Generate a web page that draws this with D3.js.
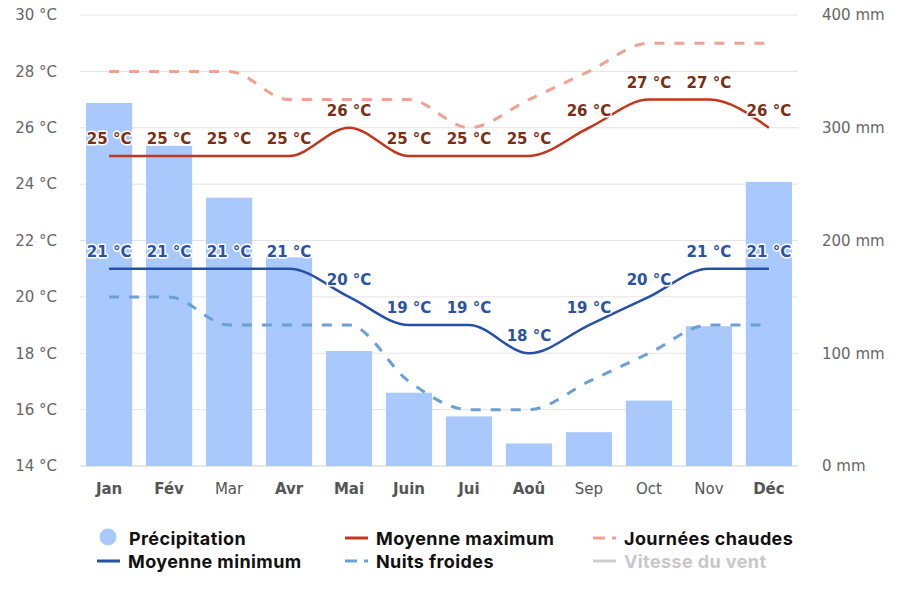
<!DOCTYPE html>
<html><head><meta charset="utf-8">
<script src="https://cdn.jsdelivr.net/npm/d3@7"></script>
<style>
body{margin:0;background:#fff;}
svg{display:block;}
</style></head>
<body><svg id="c" width="900" height="600"></svg>
<script>
const months = ["Jan","Fév","Mar","Avr","Mai","Juin","Jui","Aoû","Sep","Oct","Nov","Déc"];
const boldMonths = ["Jan","Fév","Avr","Mai","Juin","Jui","Aoû","Déc"];
const precipitation = [322, 284, 238, 185, 102, 65, 44, 20, 30, 58, 124, 252];
const maxTemp = [25,25,25,25,26,25,25,25,26,27,27,26];
const minTemp = [21,21,21,21,20,19,19,18,19,20,21,21];
const hotDays = [28,28,28,27,27,27,26,27,28,29,29,29];
const coldNights = [20,20,19,19,19,17,16,16,17,18,19,19];
const tempTicks = [14,16,18,20,22,24,26,28,30];
const rainTicks = [0,100,200,300,400];

const svg = d3.select("#c");
const pL = 80, pR = 798, pT = 15, pB = 466;

const x = d3.scaleBand().domain(months).range([pL, pR]).paddingInner(0.23).paddingOuter(0.1);
const xc = m => x(m) + x.bandwidth()/2;
const yT = d3.scaleLinear().domain([14,30]).range([pB, pT]);
const yR = d3.scaleLinear().domain([0,400]).range([pB, pT]);

// grid
const grid = svg.append("g");
grid.selectAll("line").data(tempTicks.slice(1)).join("line")
  .attr("x1", pL).attr("x2", pR)
  .attr("y1", d => yT(d)).attr("y2", d => yT(d))
  .attr("stroke", "#e3e3e3").attr("stroke-width", 1);
svg.append("line").attr("x1", pL).attr("x2", pR).attr("y1", pB).attr("y2", pB)
  .attr("stroke", "#d0d0d0").attr("stroke-width", 1);

// left axis
const axL = d3.axisLeft(yT).tickValues(tempTicks).tickSize(0).tickPadding(0).tickFormat(d => d + " °C");
svg.append("g").attr("transform", "translate(57,0)").call(axL)
  .call(g => g.select(".domain").remove())
  .selectAll("text").attr("font-family", "DejaVu Sans").attr("font-size", 15).attr("fill", "#666");

// right axis
const axR = d3.axisRight(yR).tickValues(rainTicks).tickSize(0).tickPadding(0).tickFormat(d => d + " mm");
svg.append("g").attr("transform", "translate(822,0)").call(axR)
  .call(g => g.select(".domain").remove())
  .selectAll("text").attr("font-family", "DejaVu Sans").attr("font-size", 15).attr("fill", "#666");

// x axis
const axB = d3.axisBottom(x).tickSize(0).tickPadding(0);
svg.append("g").attr("transform", `translate(0,${pB+17})`).call(axB)
  .call(g => g.select(".domain").remove())
  .selectAll("text").attr("font-family", "DejaVu Sans").attr("font-size", 15)
  .attr("fill", "#555").attr("dy", "0.71em")
  .attr("font-weight", d => boldMonths.includes(d) ? "bold" : "normal");

// bars
svg.append("g").selectAll("rect").data(months).join("rect")
  .attr("x", m => x(m)).attr("width", x.bandwidth())
  .attr("y", (m,i) => yR(precipitation[i]))
  .attr("height", (m,i) => pB - yR(precipitation[i]))
  .attr("fill", "#a9c8fb");

const line = d3.line().x((d,i) => xc(months[i])).y(d => yT(d)).curve(d3.curveMonotoneX);

svg.append("path").attr("d", line(hotDays)).attr("fill","none")
  .attr("stroke","#f0a192").attr("stroke-width",3).attr("stroke-dasharray","10,10");
svg.append("path").attr("d", line(coldNights)).attr("fill","none")
  .attr("stroke","#6a9fd8").attr("stroke-width",3).attr("stroke-dasharray","10,10");
svg.append("path").attr("d", line(maxTemp)).attr("fill","none")
  .attr("stroke","#c3361c").attr("stroke-width",2.5);
svg.append("path").attr("d", line(minTemp)).attr("fill","none")
  .attr("stroke","#2650a8").attr("stroke-width",2.5);

function labels(data, color){
  svg.append("g").selectAll("text").data(data).join("text")
    .attr("x", (d,i) => xc(months[i]))
    .attr("y", d => yT(d) - 12)
    .attr("text-anchor","middle")
    .attr("font-family","DejaVu Sans").attr("font-weight","bold").attr("font-size",15)
    .attr("fill", color).attr("stroke","#fff").attr("stroke-width",3)
    .attr("paint-order","stroke").attr("stroke-linejoin","round")
    .text(d => d + " °C");
}
labels(maxTemp, "#7a2f14");
labels(minTemp, "#2a52a3");

// legend
const legend = [
  {name:"Précipitation", type:"circle", color:"#a9c8fb", x:100, y:537, tc:"#111"},
  {name:"Moyenne maximum", type:"line", color:"#c3361c", x:345, y:538, tc:"#111"},
  {name:"Journées chaudes", type:"dash", color:"#f0a192", x:593, y:538, tc:"#111"},
  {name:"Moyenne minimum", type:"line", color:"#2650a8", x:97, y:561, tc:"#111"},
  {name:"Nuits froides", type:"dash", color:"#6a9fd8", x:345, y:561, tc:"#111"},
  {name:"Vitesse du vent", type:"line", color:"#cccccc", x:593, y:561, tc:"#c8c8c8"}
];
const lg = svg.append("g");
legend.forEach((l, k) => {
  const g = lg.append("g");
  let tx;
  if (l.type === "circle") {
    g.append("circle").attr("cx", l.x+8).attr("cy", l.y).attr("r", 8.5).attr("fill", l.color);
    tx = 129;
  } else if (l.type === "line") {
    g.append("line").attr("x1", l.x).attr("x2", l.x+23).attr("y1", l.y).attr("y2", l.y)
      .attr("stroke", l.color).attr("stroke-width", 3);
    tx = l.x + 31;
  } else {
    g.append("line").attr("x1", l.x).attr("x2", l.x+12).attr("y1", l.y).attr("y2", l.y)
      .attr("stroke", l.color).attr("stroke-width", 3);
    g.append("line").attr("x1", l.x+19).attr("x2", l.x+23).attr("y1", l.y).attr("y2", l.y)
      .attr("stroke", l.color).attr("stroke-width", 3);
    tx = l.x + 31;
  }
  g.append("text").attr("x", tx).attr("y", k < 3 ? 545 : 568)
    .attr("font-family","Inter").attr("font-weight", 700).attr("font-size", 18)
    .attr("letter-spacing", 0.4)
    .attr("fill", l.tc).text(l.name);
});
</script></body></html>
